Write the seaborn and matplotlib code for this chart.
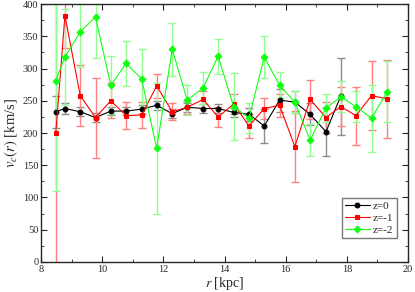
import matplotlib
matplotlib.use("Agg")
import matplotlib.pyplot as plt
import numpy as np
import pandas as pd
import seaborn as sns
from matplotlib.ticker import MultipleLocator

# radii of the bins (kpc)
r_all = [8.48, 8.78, 9.28, 9.78, 10.28, 10.78, 11.29, 11.78, 12.29, 12.78, 13.3,
         13.79, 14.3, 14.8, 15.3, 15.8, 16.3, 16.8, 17.32, 17.8, 18.3, 18.81, 19.32]

# z=0
v0 = [233, 238, 233, 224, 234, 234, 237, 243, 230, 240, 238, 238, 232, 229, 211,
      251, 248, 229, 202, 257]
e0 = [25, 8, 7, 7, 6, 6, 7, 7, 7, 7, 7, 7, 7, 10, 27, 18, 17, 17, 37, 60]

# z=-1
v1 = [200, 382, 258, 224, 250, 227, 228, 273, 233, 240, 252, 225, 245, 211, 238,
      243, 179, 252, 224, 241, 227, 258, 253]
e1 = [230, 50, 47, 62, 27, 21, 20, 18, 13, 10, 13, 16, 16, 18, 17, 18, 55, 30,
      24, 30, 45, 54, 61]

# z=-2
v2 = [281, 318, 357, 380, 274, 308, 284, 176, 330, 251, 270, 319, 241, 223, 318,
      274, 248, 189, 239, 256, 241, 223, 264]
e2 = [171, 75, 55, 63, 45, 35, 46, 102, 41, 23, 25, 27, 52, 23, 33, 20, 17, 25,
      22, 24, 24, 52, 47]

series = [
    ("z=0", v0, e0, "black", "#8c8c8c", "o"),
    ("z=-1", v1, e1, "red", "#ff8080", "s"),
    ("z=-2", v2, e2, "#11ff11", "#90ff90", "D"),
]

sns.set_style("ticks")
plt.rcParams["font.family"] = ["Liberation Serif", "DejaVu Serif"]
plt.rcParams["mathtext.fontset"] = "stix"

fig = plt.figure(figsize=(4.15, 2.92), dpi=100)
ax = fig.add_axes([0.099, 0.103, 0.884, 0.883])

for name, v, e, col, ecol, mk in series:
    r = r_all[:len(v)]
    ax.errorbar(r, v, yerr=e, fmt="none", ecolor=ecol, elinewidth=1,
                capsize=3, capthick=1, zorder=1)
    df = pd.DataFrame({"r": r, "v": v})
    sns.lineplot(data=df, x="r", y="v", ax=ax, color=col, marker=mk,
                 markersize=3.5, markeredgecolor=col, linewidth=0.8,
                 label=name, zorder=2)

ax.set_xlim(8, 20)
ax.set_ylim(0, 400)
ax.xaxis.set_major_locator(MultipleLocator(2))
ax.xaxis.set_minor_locator(MultipleLocator(1))
ax.yaxis.set_major_locator(MultipleLocator(50))
ax.yaxis.set_minor_locator(MultipleLocator(25))
ax.tick_params(which="both", direction="in", top=True, right=True,
               labelsize=7.5, pad=2)
ax.tick_params(which="major", length=4)
ax.tick_params(which="minor", length=2)
for s in ax.spines.values():
    s.set_linewidth(1)

ax.set_xlabel(r"$r$ [kpc]", fontsize=10, labelpad=1)
ax.set_ylabel(r"$v_c(r)$ [km/s]", fontsize=10.5, labelpad=2)

leg = ax.legend(loc="lower right", bbox_to_anchor=(0.985, 0.07), fontsize=8,
                frameon=True, fancybox=False, handlelength=2.2,
                handletextpad=0.3, borderpad=0.3, labelspacing=0.2)
leg.get_frame().set_edgecolor("#555555")
leg.get_frame().set_linewidth(1)

fig.savefig("out.png", dpi=100)
